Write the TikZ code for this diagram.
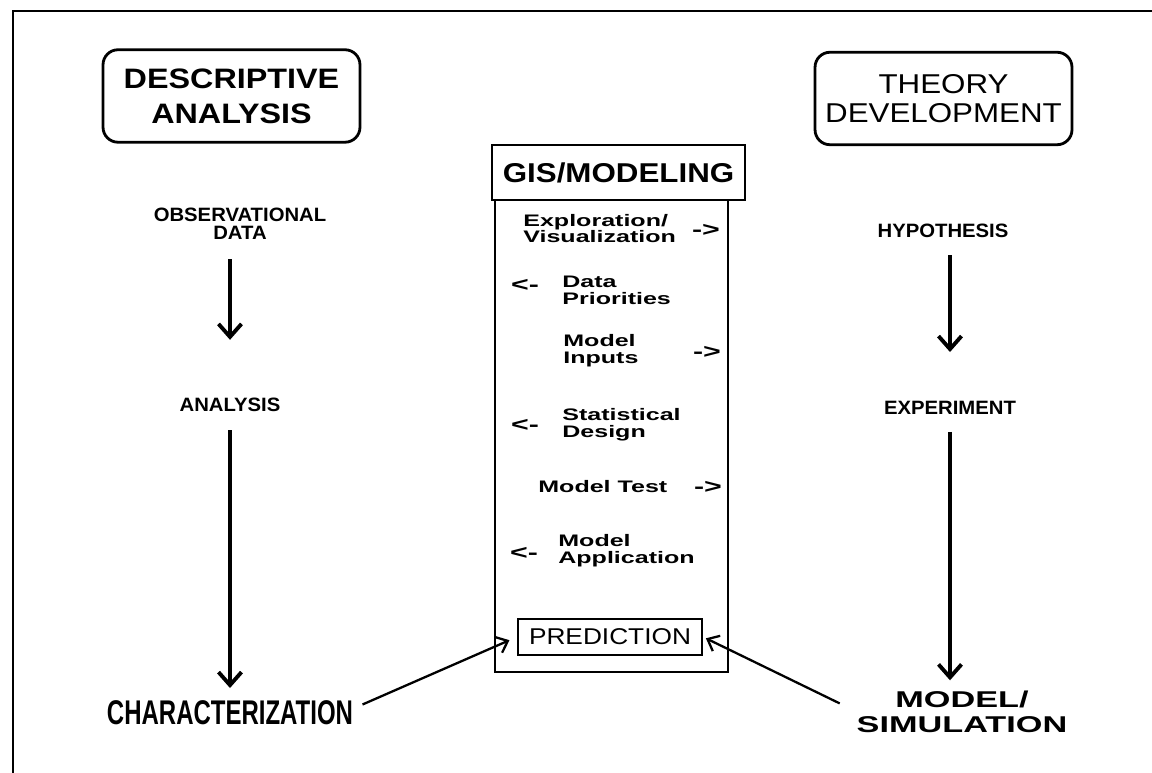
\documentclass[tikz,border=0pt]{standalone}
\usepackage{fontspec}
\setmainfont{Liberation Sans}
\newfontfamily\headfont{Liberation Sans}[FakeStretch=1.15]
\newfontfamily\labelfont{Liberation Sans}[FakeStretch=1.05]
\newfontfamily\itemfont{Liberation Sans}[FakeStretch=1.5]
\newfontfamily\narrowfont{Liberation Sans}[FakeStretch=0.7]
\usetikzlibrary{arrows.meta}

\begin{document}
\begin{tikzpicture}[x=0.02cm, y=-0.02cm,
    heading/.style={rectangle, draw, line width=1.6pt, rounded corners=0.3cm, align=center, minimum width=5.14cm, minimum height=1.85cm},
    label/.style={inner sep=0pt, align=center, font=\labelfont\bfseries\fontsize{11}{10.5}\selectfont},
    item/.style={anchor=west, inner sep=0pt, align=left, font=\itemfont\bfseries\fontsize{9.5}{9.5}\selectfont},
    sidearrow/.style={inner sep=0pt, font=\itemfont\bfseries\fontsize{11.5}{11.5}\selectfont},
    vline/.style={-{Straight Barb[length=2.6mm,width=4.6mm]}, line width=2.2pt},
    slant/.style={-{Straight Barb[length=2mm,width=3.4mm]}, line width=1.3pt}
]
    \useasboundingbox (0,0) rectangle (1152,773);
    \draw[line width=1.6pt] (13,773) -- (13,11) -- (1152,11);

    % headings
    \node[heading, font=\headfont\bfseries\fontsize{16}{19.8}\selectfont] (descr) at (231.5,96) {DESCRIPTIVE\\ANALYSIS};
    \node[heading, font=\headfont\fontsize{15.5}{16.4}\selectfont] (theory) at (943.5,98.5) {THEORY\\DEVELOPMENT};

    % middle column
    \node[rectangle, draw, line width=1.4pt, minimum width=4.66cm, minimum height=9.44cm] (gisframe) at (611.5,436) {};
    \node[rectangle, draw, line width=1.6pt, minimum width=5.06cm, minimum height=1.1cm, font=\headfont\bfseries\fontsize{15.5}{16}\selectfont] (gis) at (618.5,172.5) {GIS/MODELING};

    \node[item] (explore) at (523,228.5) {Exploration/\\Visualization};
    \node[sidearrow] (toexplore) at (706,230) {->};
    \node[item] (datapri) at (562,290) {Data\\Priorities};
    \node[sidearrow] (fromdata) at (525,285) {<-};
    \node[item] (inputs) at (563,351) {Model\\Inputs};
    \node[sidearrow] (toinputs) at (707,352) {->};
    \node[item] (statdes) at (562,424.5) {Statistical\\Design};
    \node[sidearrow] (fromstat) at (525,425) {<-};
    \node[item] (modtest) at (538,487) {Model Test};
    \node[sidearrow] (totest) at (708,487) {->};
    \node[item] (modapp) at (558,551) {Model\\Application};
    \node[sidearrow] (fromapp) at (524,553) {<-};
    \node[rectangle, draw, line width=1.4pt, minimum width=3.68cm, minimum height=0.72cm, font=\headfont\fontsize{13}{13}\selectfont] (predict) at (610,637) {PREDICTION};

    % left column
    \node[label] (obsdata) at (240,224) {OBSERVATIONAL\\DATA};
    \node[label] (analysis) at (230,405) {ANALYSIS};
    \node[inner sep=0pt, font=\narrowfont\bfseries\fontsize{19.5}{20}\selectfont] (charact) at (230,712.5) {CHARACTERIZATION};

    % right column
    \node[label] (hypo) at (943,231) {HYPOTHESIS};
    \node[label] (experiment) at (950,408) {EXPERIMENT};
    \node[inner sep=0pt, align=center, font=\itemfont\bfseries\fontsize{13}{14.2}\selectfont] (modsim) at (962,711.5) {MODEL/\\SIMULATION};

    \draw[vline, shorten <=0.38cm, shorten >=1.16cm] (analysis |- obsdata.south) -- (analysis);
    \draw[vline, shorten <=0.36cm, shorten >=0.24cm] (analysis) -- (charact);
    \draw[vline, shorten <=0.34cm, shorten >=0.98cm] (experiment |- hypo.south) -- (experiment);
    \draw[vline, shorten <=0.34cm, shorten >=0.2cm] (experiment) -- (experiment |- modsim.north);
    \draw[slant, shorten <=0.2cm, shorten >=0.16cm] ([yshift=0.08cm]charact.east) -- (predict.west);
    \draw[slant, shorten <=0.37cm, shorten >=0.06cm] (modsim.west) -- (predict.east);
\end{tikzpicture}
\end{document}
